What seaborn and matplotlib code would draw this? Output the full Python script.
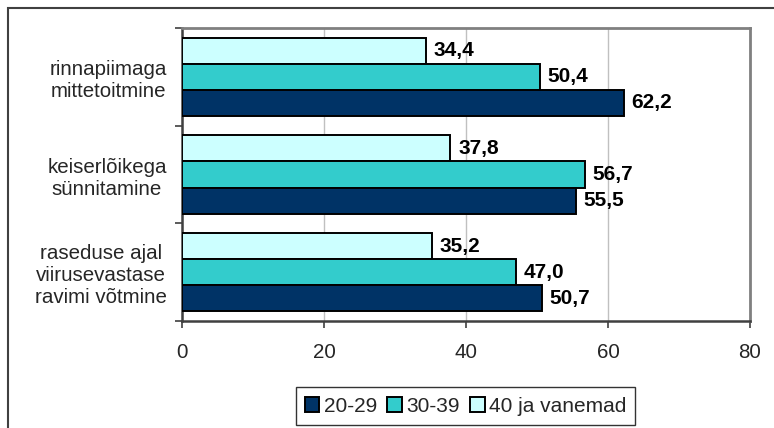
import matplotlib
matplotlib.use("Agg")
import matplotlib.pyplot as plt
import matplotlib.patches as mpatches
import seaborn as sns
import pandas as pd

# Survey data: share (%) by age group for each risk factor
categories = [
    "rinnapiimaga\nmittetoitmine",
    "keiserlõikega\nsünnitamine",
    "raseduse ajal\nviirusevastase\nravimi võtmine",
]
age_groups = ["20-29", "30-39", "40 ja vanemad"]
values_20_29 = [62.2, 55.5, 50.7]
values_30_39 = [50.4, 56.7, 47.0]
values_40_plus = [34.4, 37.8, 35.2]
x_ticks = [0, 20, 40, 60, 80]

colors = {"20-29": "#003366", "30-39": "#33CCCC", "40 ja vanemad": "#CCFFFF"}

df = pd.DataFrame({
    "kategooria": categories * 3,
    "vanus": [age_groups[0]] * 3 + [age_groups[1]] * 3 + [age_groups[2]] * 3,
    "protsent": values_20_29 + values_30_39 + values_40_plus,
})

sns.set_style("white")
plt.rcParams["font.family"] = ["Liberation Sans", "DejaVu Sans"]

W, H = 774, 428
fig = plt.figure(figsize=(W / 100, H / 100), dpi=100)
ax = fig.add_axes([182 / W, 1 - 321 / H, (750 - 182) / W, (321 - 28) / H])

# oldest group on top inside each category
hue_order = ["40 ja vanemad", "30-39", "20-29"]
sns.barplot(data=df, x="protsent", y="kategooria", hue="vanus",
            hue_order=hue_order, palette=colors, saturation=1,
            edgecolor="black", linewidth=1.4, width=0.8,
            orient="h", ax=ax, legend=False, zorder=3)

for cont in ax.containers:
    ax.bar_label(cont, labels=[f"{b.get_width():.1f}".replace(".", ",") for b in cont],
                 padding=5.5, fontsize=15, fontweight="bold", color="black")

ax.set_xlim(0, 80)
ax.set_xticks(x_ticks)
ax.set_xticklabels([str(t) for t in x_ticks])
ax.set_xlabel("")
ax.set_ylabel("")
ax.set_axisbelow(True)
ax.xaxis.grid(True, color="#c0c0c0", linewidth=1)
ax.yaxis.grid(False)

n = len(categories)
ax.set_ylim(n - 0.5, -0.5)
ax.set_yticks(range(n))
ax.set_yticklabels(categories, multialignment="center")
ax.set_yticks([i - 0.5 for i in range(n + 1)], minor=True)
ax.tick_params(axis="y", which="major", length=0, pad=11, labelsize=14.8)
ax.tick_params(axis="y", which="minor", length=5, width=1.2, color="#404040", direction="out", left=True)
ax.tick_params(axis="x", which="major", length=5, width=1.2, color="#404040", direction="out",
               bottom=True, pad=11, labelsize=14.8)

for side in ["top", "right"]:
    ax.spines[side].set_color("#808080")
    ax.spines[side].set_linewidth(2)
for side in ["left", "bottom"]:
    ax.spines[side].set_color("#404040")
    ax.spines[side].set_linewidth(1.8)

handles = [mpatches.Patch(facecolor=colors[g], edgecolor="black", linewidth=1.4, label=g)
           for g in age_groups]
leg = fig.legend(handles=handles, loc="center", bbox_to_anchor=(465.5 / W, 1 - 406 / H),
                 ncol=3, frameon=True, fancybox=False, fontsize=15,
                 handlelength=0.7, handleheight=0.7, handletextpad=0.2,
                 columnspacing=0.5, borderpad=0.45, borderaxespad=0)
leg.get_frame().set_edgecolor("black")
leg.get_frame().set_linewidth(1.0)

# outer chart frame
fig.patches.append(mpatches.Rectangle((8 / W, -0.1), 1.2, 1 - 8 / H + 0.1,
                                      transform=fig.transFigure, fill=False,
                                      edgecolor="#404040", linewidth=1.5))

fig.savefig("out.png", dpi=100)
